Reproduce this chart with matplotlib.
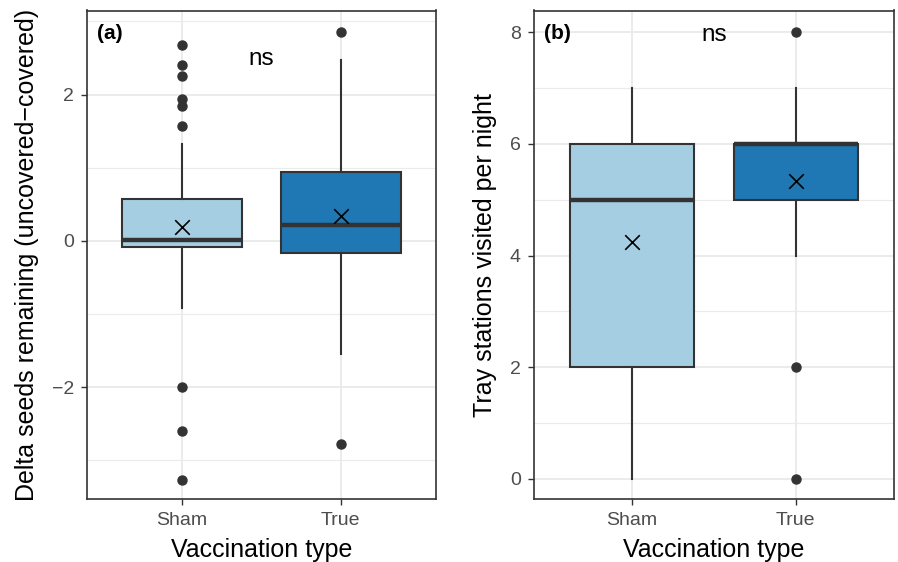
import matplotlib
matplotlib.use("Agg")
import matplotlib.pyplot as plt
from matplotlib.ticker import MultipleLocator

plt.rcParams["font.family"] = ["Liberation Sans", "DejaVu Sans"]

groups = ["Sham", "True"]
fills = ["#A6CEE3", "#1F78B4"]

# panel (a): delta seeds remaining
a_q1 = [-0.08, -0.16]
a_med = [0.01, 0.22]
a_q3 = [0.575, 0.94]
a_lo = [-0.92, -1.55]
a_hi = [1.33, 2.47]
a_mean = [0.19, 0.34]
a_out = [[2.68, 2.40, 2.26, 1.94, 1.84, 1.57, -2.0, -2.60, -3.27], [2.85, -2.78]]

# panel (b): tray stations visited per night
b_q1 = [2, 5]
b_med = [5, 6]
b_q3 = [6, 6]
b_lo = [0, 4]
b_hi = [7, 7]
b_mean = [4.25, 5.33]
b_out = [[], [8, 2, 0]]

EDGE = "#333333"
GRID = "#EBEBEB"


def panel(ax, q1, med, q3, lo, hi, mean, out, ylabel, tag, ns_y, ylim, major):
    stats = []
    for i, g in enumerate(groups):
        stats.append(dict(label=g, q1=q1[i], med=med[i], q3=q3[i],
                          whislo=lo[i], whishi=hi[i], fliers=out[i]))
    bp = ax.bxp(stats, positions=[1, 2], widths=0.757, patch_artist=True,
                showcaps=False,
                boxprops=dict(edgecolor=EDGE, linewidth=1.5),
                medianprops=dict(color=EDGE, linewidth=3.2, solid_capstyle="butt"),
                whiskerprops=dict(color=EDGE, linewidth=1.5),
                flierprops=dict(marker="o", markerfacecolor=EDGE, markeredgecolor=EDGE,
                                markersize=6.5, linestyle="none"))
    for patch, c in zip(bp["boxes"], fills):
        patch.set_facecolor(c)
    ax.scatter([1, 2], mean, marker="x", s=110, color="black", linewidths=1.2, zorder=5)

    ax.set_xlim(0.4, 2.6)
    ax.set_ylim(*ylim)
    ax.yaxis.set_major_locator(MultipleLocator(major))
    ax.yaxis.set_minor_locator(MultipleLocator(major / 2))
    ax.grid(True, which="major", color=GRID, linewidth=1.4, zorder=0)
    ax.grid(True, which="minor", axis="y", color=GRID, linewidth=0.8, zorder=0)
    ax.set_axisbelow(True)
    ax.tick_params(which="minor", left=False)
    ax.tick_params(which="major", colors="#333333", labelcolor="#4D4D4D",
                   labelsize=14, length=4.5, width=1, pad=5)
    for s in ax.spines.values():
        s.set_color(EDGE)
        s.set_linewidth(1.2)
    ax.set_xlabel("Vaccination type", fontsize=18, labelpad=6)
    ax.set_ylabel(ylabel, fontsize=18, labelpad=9)
    ax.text(0.46, ylim[1] - (ylim[1] - ylim[0]) * 0.047, tag, fontsize=15,
            fontweight="bold", ha="left", va="center")
    ax.text(1.5, ns_y, "ns", fontsize=17.5, ha="center", va="center")
    ax.set_yticklabels([t.get_text() for t in ax.get_yticklabels()])


fig = plt.figure(figsize=(8.98, 5.62), dpi=100)
ax1 = fig.add_axes([87 / 898, 1 - 499 / 562, (436 - 87) / 898, (499 - 10.5) / 562])
ax2 = fig.add_axes([534 / 898, 1 - 499 / 562, (894 - 534) / 898, (499 - 10.5) / 562])

panel(ax1, a_q1, a_med, a_q3, a_lo, a_hi, a_mean, a_out,
      "Delta seeds remaining (uncovered\u2212covered)", "(a)", 2.48, (-3.53, 3.15), 2)
panel(ax2, b_q1, b_med, b_q3, b_lo, b_hi, b_mean, b_out,
      "Tray stations visited per night", "(b)", 7.96, (-0.36, 8.39), 2)

fig.savefig("out.png", dpi=100)
